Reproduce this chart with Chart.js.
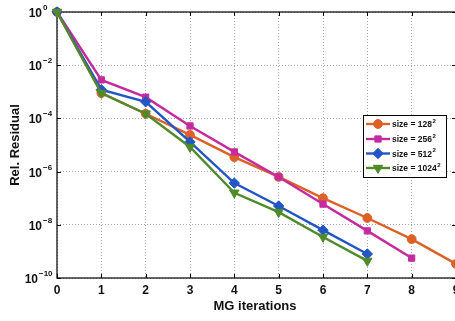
<!DOCTYPE html>
<html>
<head>
<meta charset="utf-8">
<script src="https://cdn.jsdelivr.net/npm/chart.js@4/dist/chart.umd.min.js"></script>
<style>
  html, body { margin: 0; padding: 0; background: #fff; overflow: hidden; width: 455px; height: 321px; }
  #wrap { position: relative; width: 480px; height: 321px; }
</style>
</head>
<body>
<div id="wrap"><canvas id="c" width="480" height="321"></canvas></div>
<script>
// Multigrid convergence: relative residual per iteration for four grid sizes
const iterations = [0, 1, 2, 3, 4, 5, 6, 7, 8, 9];
const res128  = [1, 9e-4, 1.5e-4, 2.4e-5, 3.5e-6, 6.3e-7, 1.0e-7, 1.8e-8, 2.9e-9, 3.4e-10];
const res256  = [1, 2.8e-3, 6.3e-4, 5.2e-5, 5.5e-6, 6.3e-7, 6.0e-8, 5.9e-9, 5.6e-10];
const res512  = [1, 1.2e-3, 4.2e-4, 1.3e-5, 3.7e-7, 5.1e-8, 6.3e-9, 8.0e-10];
const res1024 = [1, 9e-4, 1.5e-4, 8.4e-6, 1.6e-7, 3.0e-8, 3.5e-9, 4.4e-10];

const seriesLabels = ['128', '256', '512', '1024'];
const xTicks = [0, 1, 2, 3, 4, 5, 6, 7, 8, 9];
const yTickExponents = [0, -2, -4, -6, -8, -10];

const colors = ['#dd6027', '#c52a9e', '#2256c4', '#4f8a2b'];
const styles = [
  { pointStyle: 'circle', radius: 4.4, rotation: 0 },
  { pointStyle: 'rect', radius: 4.4, rotation: 0 },
  { pointStyle: 'rectRot', radius: 5.2, rotation: 0 },
  { pointStyle: 'triangle', radius: 5.4, rotation: 180 }
];

function toPoints(vals) {
  return vals.map((v, i) => ({ x: iterations[i], y: v }));
}

const allSeries = [res128, res256, res512, res1024];
const datasets = allSeries.map((vals, k) => ({
  label: 'size = ' + seriesLabels[k] + '²',
  data: toPoints(vals),
  borderColor: colors[k],
  backgroundColor: colors[k],
  borderWidth: 2.4,
  pointStyle: styles[k].pointStyle,
  pointRadius: styles[k].radius,
  pointRotation: styles[k].rotation,
  pointBorderWidth: 1,
  pointBorderColor: colors[k],
  pointBackgroundColor: colors[k],
  order: 3 - k,
  clip: false,
  tension: 0
}));

const FONT = '"Liberation Sans", Arial, Helvetica, sans-serif';
const GRID = 'rgba(135,135,170,0.75)';

// Box, inward tick marks, log tick labels, axis titles and the inset legend
const decorations = {
  id: 'decorations',
  beforeDatasetsDraw(chart) {
    const { ctx, chartArea: a, scales } = chart;
    ctx.save();
    ctx.strokeStyle = '#000';
    ctx.lineWidth = 1.2;
    ctx.strokeRect(a.left, a.top, a.right - a.left, a.bottom - a.top);
    ctx.lineWidth = 1;
    xTicks.forEach(v => {
      const px = Math.round(scales.x.getPixelForValue(v)) + 0.5;
      ctx.beginPath();
      ctx.moveTo(px, a.bottom); ctx.lineTo(px, a.bottom - 4);
      ctx.moveTo(px, a.top); ctx.lineTo(px, a.top + 4);
      ctx.stroke();
    });
    yTickExponents.forEach(e => {
      const py = Math.round(scales.y.getPixelForValue(Math.pow(10, e))) + 0.5;
      ctx.beginPath();
      ctx.moveTo(a.left, py); ctx.lineTo(a.left + 4, py);
      ctx.moveTo(a.right, py); ctx.lineTo(a.right - 4, py);
      ctx.stroke();
    });
    ctx.restore();
  },
  afterDraw(chart) {
    const { ctx, scales } = chart;
    ctx.save();
    ctx.fillStyle = '#111';
    // y tick labels as powers of ten
    yTickExponents.forEach(e => {
      const py = scales.y.getPixelForValue(Math.pow(10, e));
      ctx.font = 'bold 12px ' + FONT;
      ctx.textAlign = 'right';
      ctx.textBaseline = 'alphabetic';
      const shift = e <= -10 ? -4 : 0;
      ctx.fillText('10', 42 + shift, py + 5);
      ctx.font = 'bold 8px ' + FONT;
      ctx.textAlign = 'left';
      ctx.fillText(String(e).replace('-', '\u2212'), 43 + shift, py - 2);
    });
    // axis titles
    ctx.font = 'bold 13px ' + FONT;
    ctx.textAlign = 'center';
    ctx.textBaseline = 'middle';
    ctx.fillText('MG iterations', 255, 306);
    ctx.save();
    ctx.translate(15, 145);
    ctx.rotate(-Math.PI / 2);
    ctx.fillText('Rel. Residual', 0, 0);
    ctx.restore();

    // inset legend
    const bx = 363.5, by = 115.5, bw = 83, bh = 62;
    ctx.fillStyle = '#fff';
    ctx.fillRect(bx, by, bw, bh);
    ctx.strokeStyle = '#000';
    ctx.lineWidth = 1;
    ctx.strokeRect(bx, by, bw, bh);
    const rows = [124, 139, 153.5, 168];
    chart.data.datasets.forEach((ds, k) => {
      const y = rows[k];
      ctx.strokeStyle = ds.borderColor;
      ctx.lineWidth = 2.4;
      ctx.beginPath();
      ctx.moveTo(366, y); ctx.lineTo(390, y);
      ctx.stroke();
      ctx.fillStyle = ds.backgroundColor;
      ctx.lineWidth = 1;
      Chart.helpers.drawPoint(ctx, {
        pointStyle: ds.pointStyle,
        radius: ds.pointRadius,
        rotation: ds.pointRotation,
        borderWidth: 1
      }, 378, y);
      ctx.fillStyle = '#111';
      ctx.font = 'bold 8.5px ' + FONT;
      ctx.textAlign = 'left';
      ctx.textBaseline = 'middle';
      const base = 'size = ' + seriesLabels[k];
      ctx.fillText(base, 392, y + 1);
      const w = ctx.measureText(base).width;
      ctx.font = 'bold 6px ' + FONT;
      ctx.fillText('2', 392 + w + 0.5, y - 3);
    });
    ctx.restore();
  }
};

new Chart(document.getElementById('c'), {
  type: 'line',
  data: { datasets },
  options: {
    responsive: false,
    animation: false,
    devicePixelRatio: 1,
    layout: { padding: { top: 12, right: 24, left: 0, bottom: 0 } },
    plugins: { legend: { display: false }, tooltip: { enabled: false } },
    scales: {
      x: {
        type: 'linear',
        min: 0, max: 9,
        afterBuildTicks: s => { s.ticks = xTicks.map(v => ({ value: v })); },
        afterFit: s => { s.height = 43; },
        ticks: {
          color: '#111',
          font: { family: FONT, size: 12, weight: 'bold' },
          padding: 5,
          maxRotation: 0
        },
        grid: { color: GRID, lineWidth: 1, drawTicks: false },
        border: { display: false, dash: [1, 2] }
      },
      y: {
        type: 'logarithmic',
        min: 1e-10, max: 1,
        afterBuildTicks: s => { s.ticks = yTickExponents.map(e => ({ value: Math.pow(10, e) })); },
        afterFit: s => { s.width = 57; },
        ticks: { display: false },
        grid: { color: GRID, lineWidth: 1, drawTicks: false },
        border: { display: false, dash: [1, 2] }
      }
    }
  },
  plugins: [decorations]
});
</script>
</body>
</html>
